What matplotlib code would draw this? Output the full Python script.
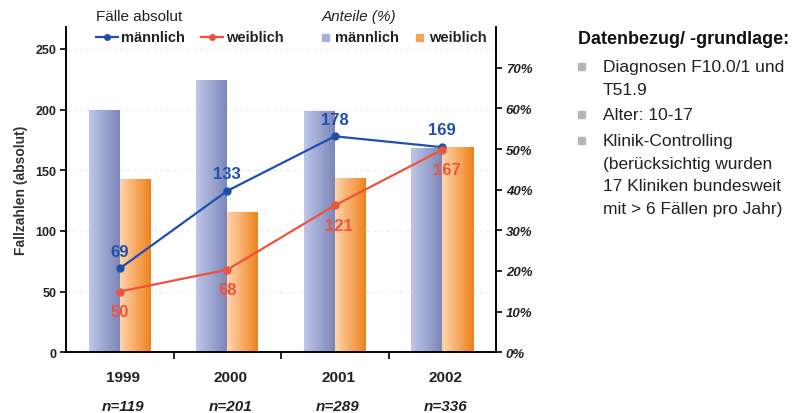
import numpy as np
import matplotlib
matplotlib.use('Agg')
import matplotlib.pyplot as plt
from matplotlib.lines import Line2D
from matplotlib.patches import Rectangle
from matplotlib.colors import LinearSegmentedColormap

plt.rcParams['font.family'] = ['Liberation Sans', 'DejaVu Sans']

years = ['1999', '2000', '2001', '2002']
n_labels = ['n=119', 'n=201', 'n=289', 'n=336']
cases_m = [69, 133, 178, 169]
cases_w = [50, 68, 121, 167]
share_m = [59.5, 67.1, 59.3, 50.2]
share_w = [42.5, 34.6, 42.8, 50.6]
left_ticks = [0, 50, 100, 150, 200, 250]
right_ticks = [0, 10, 20, 30, 40, 50, 60, 70]
notes = [
    ['Diagnosen F10.0/1 und', 'T51.9'],
    ['Alter: 10-17'],
    ['Klinik-Controlling', '(berücksichtig wurden', '17 Kliniken bundesweit', 'mit > 6 Fällen pro Jahr)'],
]

blue = '#1f4fae'
red = '#f2513a'
blue_cmap = LinearSegmentedColormap.from_list('b', ['#bdc5e7', '#7c87b8'])
orange_cmap = LinearSegmentedColormap.from_list('o', ['#fdd3aa', '#ef831e'])


def gradient_bars(axis, left, heights, width, cmap, steps=30):
    # light on the left, darker on the right, as thin slices of each bar
    dw = width / steps
    for k in range(steps):
        axis.bar(left + k * dw, heights, dw, align='edge', color=cmap(k / (steps - 1)),
                 linewidth=0, antialiased=False, zorder=2)


fig = plt.figure(figsize=(7.95, 4.14), dpi=100)
ax = fig.add_axes([0.083, 0.147, 0.541, 0.785])
ax2 = ax.twinx()
ax.set_zorder(ax2.get_zorder() + 1)
ax.patch.set_visible(False)

x = np.arange(len(years))
w = 0.29
gradient_bars(ax2, x - w, share_m, w, blue_cmap)
gradient_bars(ax2, x, share_w, w, orange_cmap)

# faint grid at the left ticks, kept behind the bars
for v in left_ticks[1:]:
    ax2.add_line(Line2D([0, 1], [v, v], transform=ax.get_yaxis_transform(),
                        color='#ececec', lw=0.8, ls=(0, (3, 3)), zorder=1))

ax.plot(x, cases_m, color=blue, lw=1.6, marker='o', ms=5, zorder=5)
ax.plot(x, cases_w, color=red, lw=1.6, marker='o', ms=5, zorder=5)
for i in range(len(years)):
    ax.annotate(str(cases_m[i]), (x[i], cases_m[i]), xytext=(0, 7), textcoords='offset points',
                ha='center', va='bottom', color=blue, fontsize=12, fontweight='bold')
    ax.annotate(str(cases_w[i]), (x[i], cases_w[i]), xytext=(3 if i > 1 else 0, -9),
                textcoords='offset points', ha='center', va='top', color=red,
                fontsize=12, fontweight='bold')

ax.set_xlim(-0.5, len(years) - 0.5)
ax.set_ylim(0, 268)
ax2.set_ylim(0, 80)
ax.set_yticks(left_ticks)
ax.set_yticklabels([str(v) for v in left_ticks], fontweight='bold', fontsize=9, color='#222222')
ax2.set_yticks(right_ticks)
ax2.set_yticklabels(['{}%'.format(v) for v in right_ticks], fontstyle='italic',
                    fontweight='bold', fontsize=9.5, color='#222222')
ax.set_xticks(x[:-1] + 0.5)
ax.set_xticklabels([])
ax.tick_params(axis='x', direction='out', length=5, width=1.2)
ax.tick_params(axis='y', direction='out', length=4, width=1.2, pad=3)
ax2.tick_params(axis='y', direction='out', length=4, width=1.2, pad=3)
ax.spines['top'].set_visible(False)
ax2.spines['top'].set_visible(False)
for s in ['left', 'right', 'bottom']:
    ax.spines[s].set_linewidth(1.2)
    ax2.spines[s].set_linewidth(1.2)

ax.set_ylabel('Fallzahlen (absolut)', fontsize=10, fontweight='bold', color='#333333', labelpad=5)

for i in range(len(years)):
    ax.annotate(years[i], (x[i] + 0.03, 0), xycoords=('data', 'axes fraction'), xytext=(0, -18),
                textcoords='offset points', ha='center', va='center', fontsize=11,
                fontweight='bold', color='#222222')
    ax.annotate(n_labels[i], (x[i] + 0.03, 0), xycoords=('data', 'axes fraction'), xytext=(0, -39),
                textcoords='offset points', ha='center', va='center', fontsize=11,
                fontweight='bold', fontstyle='italic', color='#222222')

# legend drawn by hand above the plot
fig.text(96 / 795, 1 - 17 / 414, 'Fälle absolut', fontsize=11, va='center', color='#222222')
fig.text(322 / 795, 1 - 17 / 414, 'Anteile (%)', fontsize=11, va='center',
         fontstyle='italic', color='#222222')
ly = 1 - 38 / 414
for xs, col, lab in [(96, blue, 'männlich'), (201, red, 'weiblich')]:
    fig.add_artist(Line2D([xs / 795, (xs + 22) / 795], [ly, ly], color=col, lw=1.6))
    fig.add_artist(Line2D([(xs + 11) / 795], [ly], color=col, marker='o', ms=4))
    fig.text((xs + 25) / 795, ly, lab, fontsize=10.5, fontweight='bold', va='center', color='#222222')
for xs, col, lab in [(322, '#a9b1da', 'männlich'), (416, '#f5a35a', 'weiblich')]:
    fig.add_artist(Rectangle((xs / 795, ly - 3.5 / 414), 7 / 795, 7 / 414, color=col,
                             transform=fig.transFigure))
    fig.text((xs + 13) / 795, ly, lab, fontsize=10.5, fontweight='bold', va='center', color='#222222')

# notes on the right
fig.text(578 / 795, 1 - 39 / 414, 'Datenbezug/ -grundlage:', fontsize=13, fontweight='bold',
         va='center', color='#111111')
y = 67.5
for block in notes:
    fig.add_artist(Rectangle((578 / 795, 1 - (y + 3.5) / 414), 7 / 795, 7 / 414, color='#b5b5b5',
                             transform=fig.transFigure))
    for line in block:
        fig.text(603 / 795, 1 - y / 414, line, fontsize=12.5, va='center', color='#222222')
        y += 22.7
    y += 3

fig.savefig('out.png', dpi=100)
